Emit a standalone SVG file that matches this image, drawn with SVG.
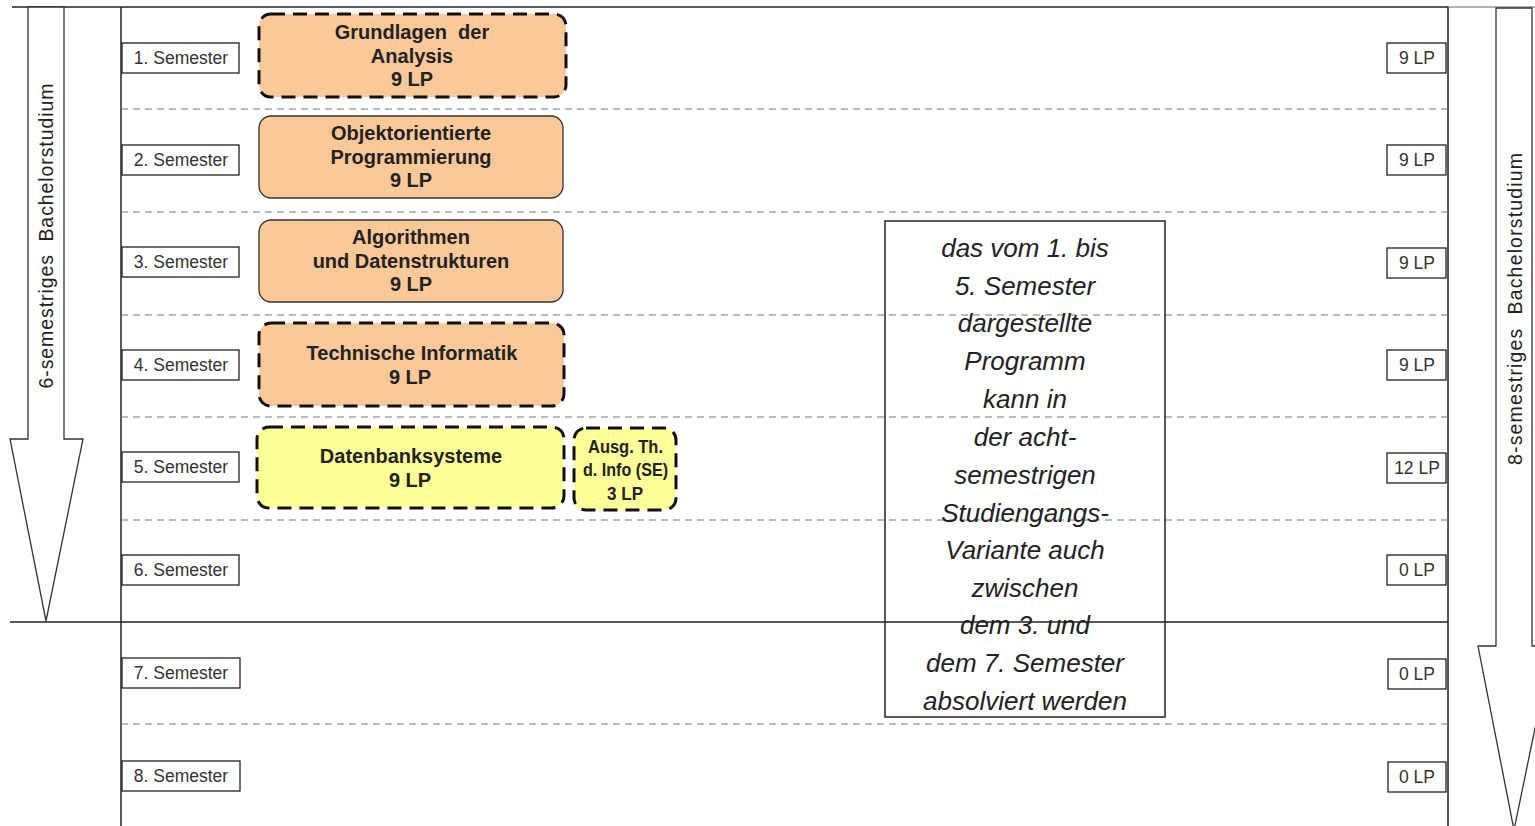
<svg xmlns="http://www.w3.org/2000/svg" width="1535" height="826" viewBox="0 0 1535 826">
<style>
.frame{stroke:#222;stroke-width:1.5;fill:none}
.dash{stroke:#777;stroke-width:1.2;stroke-dasharray:7 5;fill:none}
.lbl{fill:#fff;stroke:#222;stroke-width:1.3}
.lt{font-family:"Liberation Sans",Arial,sans-serif;font-size:17.5px;fill:#333;text-anchor:middle}
.orange{fill:#FBC898}
.yellow{fill:#FFFF99}
.solidb{stroke:#333;stroke-width:1.3}
.dashb{stroke:#111;stroke-width:3;stroke-dasharray:14 8}
.mt{font-family:"Liberation Sans",Arial,sans-serif;font-size:20px;font-weight:bold;fill:#222;text-anchor:middle}
.nt{font-family:"Liberation Sans",Arial,sans-serif;font-size:18px;font-weight:bold;fill:#222;text-anchor:middle}
.it{font-family:"Liberation Sans",Arial,sans-serif;font-style:italic;font-size:26px;fill:#222;text-anchor:middle}
.vt{font-family:"Liberation Sans",Arial,sans-serif;font-size:19.5px;fill:#222;text-anchor:middle}
.arrow{fill:#fff;stroke:#333;stroke-width:1.3}
</style>

<g id="frame">
<line class="frame" x1="12" y1="7" x2="1448" y2="7"/>
<line x1="1448" y1="7" x2="1535" y2="7" stroke="#999" stroke-width="1.5"/>
<line class="frame" x1="121" y1="7" x2="121" y2="826"/>
<line class="frame" x1="1448" y1="7" x2="1448" y2="826"/>
<line class="frame" x1="10" y1="622" x2="1448" y2="622"/>
<line class="dash" x1="121" y1="109" x2="1448" y2="109"/>
<line class="dash" x1="121" y1="212" x2="1448" y2="212"/>
<line class="dash" x1="121" y1="315" x2="1448" y2="315"/>
<line class="dash" x1="121" y1="417" x2="1448" y2="417"/>
<line class="dash" x1="121" y1="520" x2="1448" y2="520"/>
<line class="dash" x1="121" y1="724" x2="1448" y2="724"/>
</g>

<g id="arrow6">
<polygon class="arrow" points="28,7 64,7 64,439 83,439 46,621 10,439 28,439"/>
<text class="vt" transform="translate(53,236) rotate(-90)" textLength="305" lengthAdjust="spacing">6-semestriges&#160; Bachelorstudium</text>
</g>
<g id="arrow8">
<polygon class="arrow" points="1496,8 1532,8 1532,646 1552,646 1514,830 1478,646 1496,646"/>
<text class="vt" transform="translate(1522,309) rotate(-90)" textLength="312" lengthAdjust="spacing">8-semestriges&#160; Bachelorstudium</text>
</g>

<g id="semester-labels">
<g id="sem1"><rect class="lbl" x="122" y="43" width="117" height="30"/><text class="lt" x="181" y="64">1. Semester</text></g>
<g id="sem2"><rect class="lbl" x="122" y="145" width="117" height="30"/><text class="lt" x="181" y="166">2. Semester</text></g>
<g id="sem3"><rect class="lbl" x="122" y="247" width="117" height="30"/><text class="lt" x="181" y="268">3. Semester</text></g>
<g id="sem4"><rect class="lbl" x="122" y="350" width="117" height="30"/><text class="lt" x="181" y="371">4. Semester</text></g>
<g id="sem5"><rect class="lbl" x="122" y="452" width="117" height="30"/><text class="lt" x="181" y="473">5. Semester</text></g>
<g id="sem6"><rect class="lbl" x="122" y="555" width="117" height="30"/><text class="lt" x="181" y="576">6. Semester</text></g>
<g id="sem7"><rect class="lbl" x="122" y="658" width="118" height="30"/><text class="lt" x="181" y="679">7. Semester</text></g>
<g id="sem8"><rect class="lbl" x="122" y="761" width="118" height="30"/><text class="lt" x="181" y="782">8. Semester</text></g>
</g>

<g id="lp-labels">
<g id="lp1"><rect class="lbl" x="1387" y="43" width="59" height="30"/><text class="lt" x="1417" y="64">9 LP</text></g>
<g id="lp2"><rect class="lbl" x="1387" y="145" width="59" height="30"/><text class="lt" x="1417" y="166">9 LP</text></g>
<g id="lp3"><rect class="lbl" x="1387" y="248" width="59" height="30"/><text class="lt" x="1417" y="269">9 LP</text></g>
<g id="lp4"><rect class="lbl" x="1387" y="350" width="59" height="30"/><text class="lt" x="1417" y="371">9 LP</text></g>
<g id="lp5"><rect class="lbl" x="1387" y="453" width="59" height="30"/><text class="lt" x="1417" y="474">12 LP</text></g>
<g id="lp6"><rect class="lbl" x="1387" y="555" width="59" height="30"/><text class="lt" x="1417" y="576">0 LP</text></g>
<g id="lp7"><rect class="lbl" x="1388" y="659" width="58" height="30"/><text class="lt" x="1417" y="680">0 LP</text></g>
<g id="lp8"><rect class="lbl" x="1388" y="762" width="58" height="30"/><text class="lt" x="1417" y="783">0 LP</text></g>
</g>

<g id="m-analysis">
<rect class="orange dashb" x="259" y="14" width="307" height="83" rx="12"/>
<text class="mt" x="412" y="39">Grundlagen&#160; der</text>
<text class="mt" x="412" y="63">Analysis</text>
<text class="mt" x="412" y="86">9 LP</text>
</g>
<g id="m-oop">
<rect class="orange solidb" x="259" y="116" width="304" height="82" rx="12"/>
<text class="mt" x="411" y="140">Objektorientierte</text>
<text class="mt" x="411" y="164">Programmierung</text>
<text class="mt" x="411" y="187">9 LP</text>
</g>
<g id="m-algo">
<rect class="orange solidb" x="259" y="220" width="304" height="82" rx="12"/>
<text class="mt" x="411" y="244">Algorithmen</text>
<text class="mt" x="411" y="268">und Datenstrukturen</text>
<text class="mt" x="411" y="291">9 LP</text>
</g>
<g id="m-ti">
<rect class="orange dashb" x="259" y="323" width="305" height="83" rx="12"/>
<text class="mt" x="412" y="360">Technische Informatik</text>
<text class="mt" x="410" y="384">9 LP</text>
</g>
<g id="m-dbs">
<rect class="yellow dashb" x="257" y="427" width="307" height="81" rx="12"/>
<text class="mt" x="411" y="463">Datenbanksysteme</text>
<text class="mt" x="410" y="487">9 LP</text>
</g>
<g id="m-ausg">
<rect class="yellow dashb" x="574" y="428" width="102" height="82" rx="12"/>
<text class="nt" x="625.5" y="453" textLength="75" lengthAdjust="spacingAndGlyphs">Ausg. Th.</text>
<text class="nt" x="625.5" y="476" textLength="85" lengthAdjust="spacingAndGlyphs">d. Info (SE)</text>
<text class="nt" x="625" y="500" textLength="36" lengthAdjust="spacingAndGlyphs">3 LP</text>
</g>

<g id="note">
<rect x="885" y="221" width="280" height="496" fill="none" stroke="#222" stroke-width="1.5"/>
<text class="it" x="1025" y="257">das vom 1. bis</text>
<text class="it" x="1025" y="295">5. Semester</text>
<text class="it" x="1025" y="332">dargestellte</text>
<text class="it" x="1025" y="370">Programm</text>
<text class="it" x="1025" y="408">kann in</text>
<text class="it" x="1025" y="446">der acht-</text>
<text class="it" x="1025" y="484">semestrigen</text>
<text class="it" x="1025" y="522">Studiengangs-</text>
<text class="it" x="1025" y="559">Variante auch</text>
<text class="it" x="1025" y="597">zwischen</text>
<text class="it" x="1025" y="634">dem 3. und</text>
<text class="it" x="1025" y="672">dem 7. Semester</text>
<text class="it" x="1025" y="710">absolviert werden</text>
</g>
<g id="connectors"></g>
</svg>
